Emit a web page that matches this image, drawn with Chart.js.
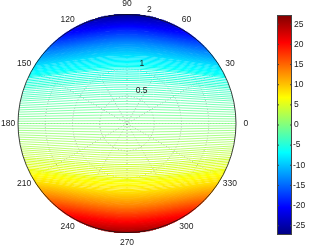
<!DOCTYPE html>
<html>
<head>
<meta charset="utf-8">
<script src="https://cdn.jsdelivr.net/npm/chart.js@4"></script>
<style>
html, body { margin: 0; padding: 0; background: #fff; }
canvas { display: block; }
</style>
</head>
<body>
<canvas id="chart" width="309" height="249"></canvas>
<script>
// field value along the vertical diameter
const profileY = [2, 1.75, 1.5, 1.25, 1, 0.75, 0.5, 0.25, 0, -0.25, -0.5, -0.75, -1, -1.25, -1.5, -1.75, -2];
const profileValue = [-26, -19.5, -13.5, -8.5, -5.8, -4, -2.5, -1.2, 0, 1.2, 2.5, 4, 5.8, 8.5, 13.5, 19.5, 26];
// height at which the contour through each profile point meets the rim
const rimY = [2, 1.62, 1.32, 1.06, 0.84, 0.62, 0.41, 0.2, 0, -0.2, -0.41, -0.62, -0.84, -1.06, -1.32, -1.62, -2];

const angleTicks = [0, 30, 60, 90, 120, 150, 180, 210, 240, 270, 300, 330];
const ringTicks = [0.5, 1, 1.5];
const radialLabels = [0.5, 1, 2];
const colorTicks = [-25, -20, -15, -10, -5, 0, 5, 10, 15, 20, 25];
const colorMin = -27.3;
const colorMax = 27.3;
const rMax = 2;
const levelStep = 0.25;

function jet(v) {
    var t = (v - colorMin) / (colorMax - colorMin);
    t = Math.max(0, Math.min(1, t));
    function c(x) { return Math.round(255 * Math.max(0, Math.min(1, 1.5 - Math.abs(4 * t - x)))); }
    return 'rgb(' + c(3) + ',' + c(2) + ',' + c(1) + ')';
}

// where a contour level crosses the vertical diameter and the rim
function levelToCurve(level) {
    for (var i = 0; i < profileY.length - 1; i++) {
        var a = profileValue[i], b = profileValue[i + 1];
        if ((level - a) * (level - b) <= 0 && a !== b) {
            var f = (level - a) / (b - a);
            return {
                y0: profileY[i] + f * (profileY[i + 1] - profileY[i]),
                ye: rimY[i] + f * (rimY[i + 1] - rimY[i])
            };
        }
    }
    return null;
}

const pxPerUnit = (249 - 14 - 16) / (2 * rMax);
const contourSets = [];
for (var k = -108; k <= 108; k++) {
    var level = k * levelStep;
    var c = levelToCurve(level);
    if (c === null || Math.abs(c.y0) >= rMax) continue;
    var next = levelToCurve(level + levelStep) || levelToCurve(level - levelStep);
    var gap = next ? Math.abs(next.y0 - c.y0) * pxPerUnit : 0.5;
    // thin lines where contours are sparse, merged where they crowd together (like the raster original)
    var width = Math.max(0.8, Math.min(1.3, 1.75 - 0.4 * gap));
    var xe = Math.sqrt(Math.max(0, rMax * rMax - c.ye * c.ye));
    contourSets.push({
        data: [{x: -xe, y: c.ye}, {x: 0, y: c.y0}, {x: xe, y: c.ye}],
        borderColor: jet(level),
        borderWidth: width,
        pointRadius: 0,
        cubicInterpolationMode: 'monotone',
        showLine: true,
        fill: false
    });
}

const FONT = '8.5px "Liberation Sans", Arial, sans-serif';

const polarGrid = {
    id: 'polarGrid',
    beforeDatasetsDraw(chart) {
        const ctx = chart.ctx, sx = chart.scales.x, sy = chart.scales.y;
        const cx = sx.getPixelForValue(0), cy = sy.getPixelForValue(0);
        const k = (sx.getPixelForValue(1) - cx);
        ctx.save();
        ctx.strokeStyle = 'rgba(0,0,0,0.5)';
        ctx.lineWidth = 0.6;
        ctx.setLineDash([1, 2]);
        ringTicks.forEach(function (r) {
            ctx.beginPath();
            ctx.arc(cx, cy, r * k, 0, Math.PI * 2);
            ctx.stroke();
        });
        for (var a = 0; a < 180; a += 30) {
            var rad = a * Math.PI / 180;
            ctx.beginPath();
            ctx.moveTo(sx.getPixelForValue(-rMax * Math.cos(rad)), sy.getPixelForValue(-rMax * Math.sin(rad)));
            ctx.lineTo(sx.getPixelForValue(rMax * Math.cos(rad)), sy.getPixelForValue(rMax * Math.sin(rad)));
            ctx.stroke();
        }
        ctx.restore();
    },
    afterDatasetsDraw(chart) {
        const ctx = chart.ctx, sx = chart.scales.x, sy = chart.scales.y;
        const cx = sx.getPixelForValue(0), cy = sy.getPixelForValue(0);
        const k = (sx.getPixelForValue(1) - cx);
        ctx.save();
        ctx.strokeStyle = '#111';
        ctx.lineWidth = 0.8;
        ctx.beginPath();
        ctx.arc(cx, cy, rMax * k, 0, Math.PI * 2);
        ctx.stroke();

        ctx.fillStyle = '#222';
        ctx.font = FONT;
        // radial labels
        ctx.textAlign = 'left';
        ctx.textBaseline = 'bottom';
        var c82 = Math.cos(82 * Math.PI / 180), s82 = Math.sin(82 * Math.PI / 180);
        radialLabels.forEach(function (r) {
            var rr = r + 0.025;
            ctx.fillText('  ' + r, sx.getPixelForValue(rr * c82), sy.getPixelForValue(rr * s82));
        });

        ctx.textAlign = 'center';
        ctx.textBaseline = 'middle';
        angleTicks.forEach(function (a) {
            var rad = a * Math.PI / 180;
            var rr = rMax * 1.09;
            ctx.fillText(String(a), sx.getPixelForValue(rr * Math.cos(rad)), sy.getPixelForValue(rr * Math.sin(rad)));
        });

        // colorbar
        var left = 277, right = 292, top = 15, bottom = 235;
        var grad = ctx.createLinearGradient(0, bottom, 0, top);
        for (var i = 0; i <= 16; i++) {
            grad.addColorStop(i / 16, jet(colorMin + (colorMax - colorMin) * i / 16));
        }
        ctx.fillStyle = grad;
        ctx.fillRect(left, top, right - left, bottom - top);
        ctx.strokeStyle = '#444';
        ctx.lineWidth = 1;
        ctx.strokeRect(left + 0.5, top + 0.5, right - left - 1, bottom - top - 1);
        ctx.fillStyle = '#222';
        ctx.textAlign = 'left';
        colorTicks.forEach(function (v) {
            var y = bottom - (v - colorMin) / (colorMax - colorMin) * (bottom - top);
            ctx.beginPath();
            ctx.moveTo(left, y); ctx.lineTo(left + 2, y);
            ctx.moveTo(right, y); ctx.lineTo(right - 2, y);
            ctx.stroke();
            ctx.fillText(String(v), v < 0 ? 293 : 294, y);
        });
        ctx.restore();
    }
};

new Chart(document.getElementById('chart'), {
    type: 'scatter',
    data: { datasets: contourSets },
    options: {
        responsive: false,
        animation: false,
        events: [],
        layout: { padding: { left: 18, top: 14, right: 73, bottom: 16 } },
        scales: {
            x: { type: 'linear', min: -rMax, max: rMax, display: false },
            y: { type: 'linear', min: -rMax, max: rMax, display: false }
        },
        plugins: { legend: { display: false }, tooltip: { enabled: false } }
    },
    plugins: [polarGrid]
});
</script>
</body>
</html>
